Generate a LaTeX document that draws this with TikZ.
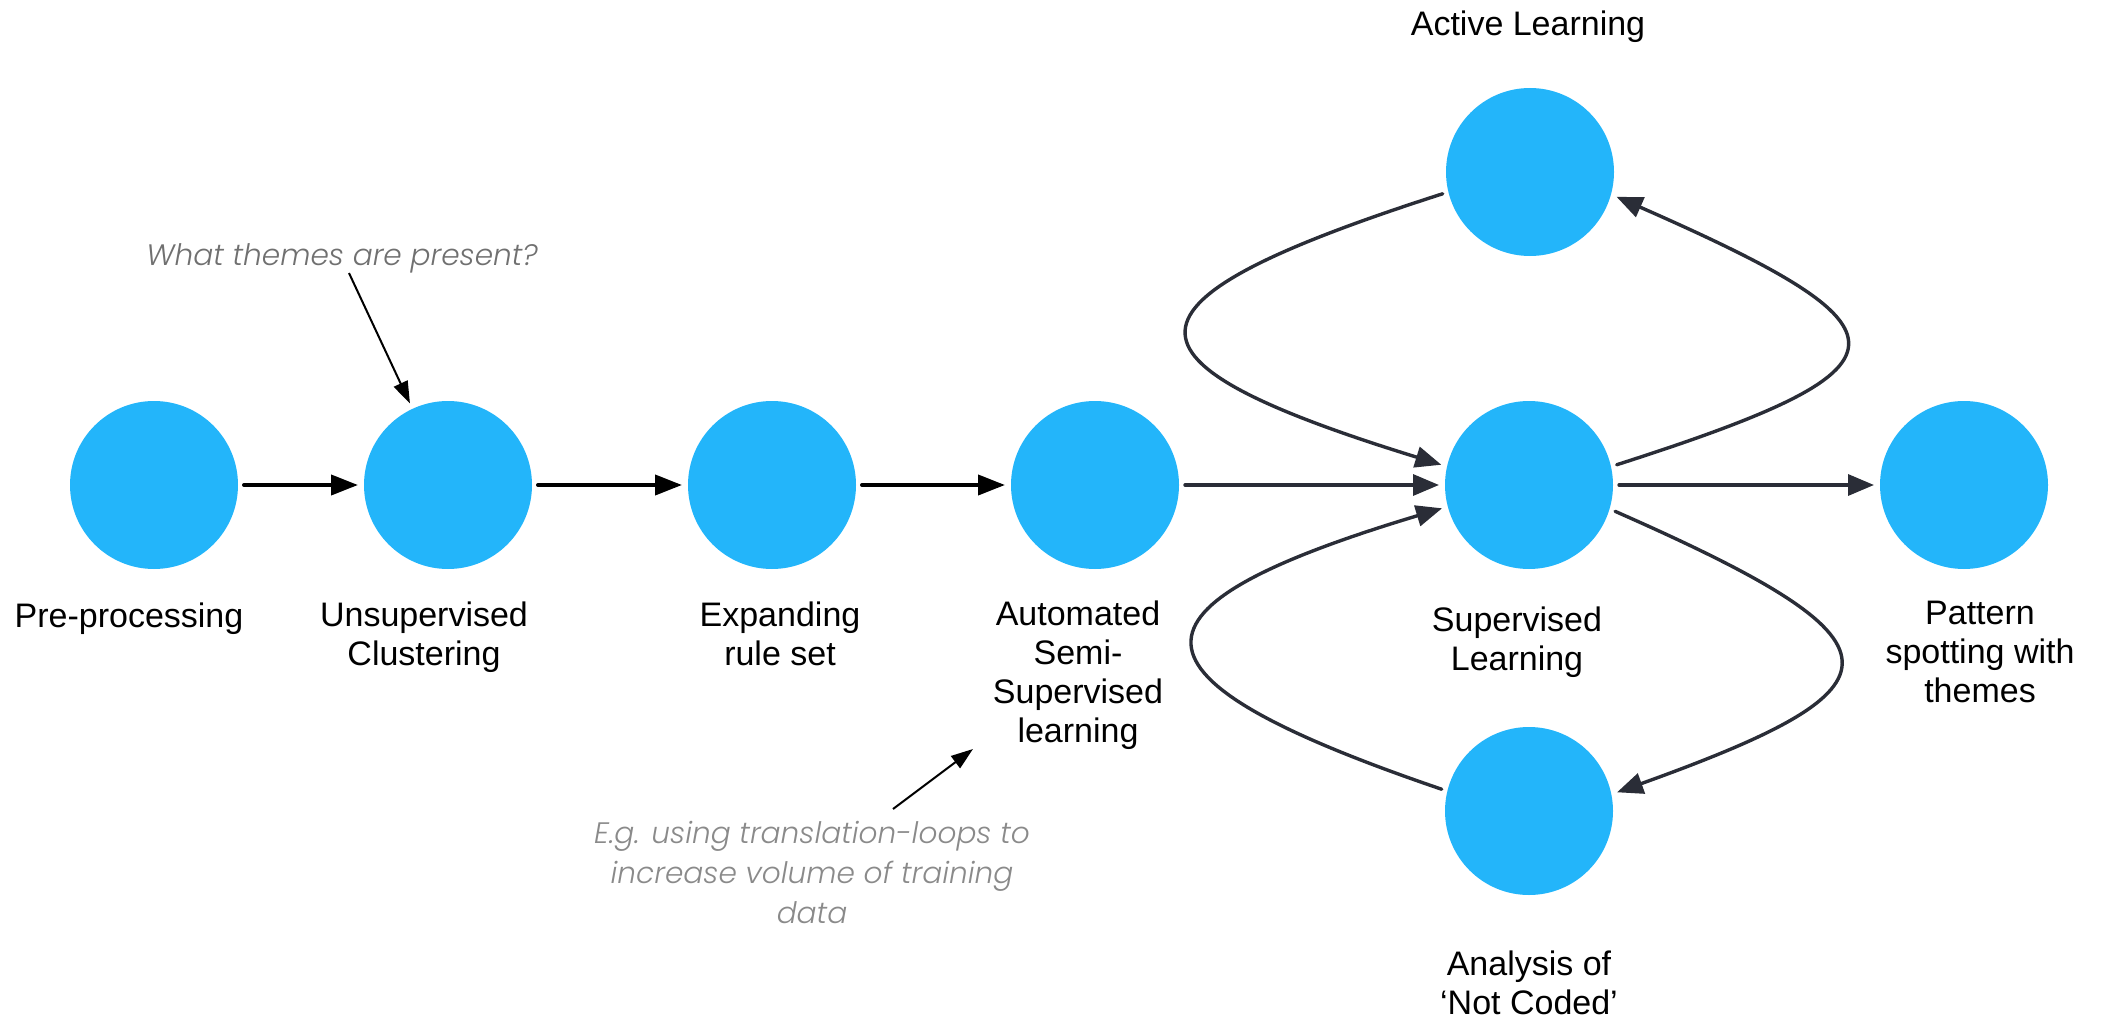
\documentclass[tikz,border=0pt]{standalone}
\usepackage{fontspec}
\setmainfont{Liberation Sans}
\newfontfamily\annfont{Poppins}[UprightFont={* Light Italic}]
\usetikzlibrary{arrows.meta}
\definecolor{cblue}{HTML}{23B5FA}
\definecolor{cdark}{HTML}{2A2D37}
\definecolor{cgrayA}{HTML}{707070}
\definecolor{cgrayB}{HTML}{8A8A8A}
\begin{document}
\begin{tikzpicture}[x=0.5pt,y=-0.5pt,
  stage/.style={circle, fill=cblue, minimum size=84pt, inner sep=0pt, outer sep=3pt},
  lab/.style={font=\fontsize{17}{19.5}\selectfont, align=center, anchor=base, inner sep=0pt},
  ann/.style={font=\annfont\fontsize{14.8}{20}\selectfont, text=cgrayA, align=center, anchor=base, inner sep=0pt},
  flowk/.style={-{Triangle[length=13.5pt,width=10pt]}, line width=2pt, line cap=round, black},
  flowd/.style={-{Triangle[length=13pt,width=10.5pt]}, line width=1.7pt, line cap=round, cdark},
  note/.style={-{Triangle[length=11pt,width=7.5pt]}, line width=1pt, black}]
\useasboundingbox (0,0) rectangle (2105,1022);

% stages
\node[stage] (pre)  at (154,485) {};
\node[stage] (uns)  at (448,485) {};
\node[stage] (exp)  at (772,485) {};
\node[stage] (semi) at (1095,485) {};
\node[stage] (sup)  at (1529,485) {};
\node[stage] (pat)  at (1964,485) {};
\node[stage] (act)  at (1530,172) {};
\node[stage] (ana)  at (1529,811) {};

% labels (anchor = baseline of the last line)
\node[lab] (lpre)  at (129,627)  {Pre-processing};
\node[lab] (luns)  at (424,665)  {Unsupervised\\Clustering};
\node[lab] (lexp)  at (780,665)  {Expanding\\rule set};
\node[lab] (lsemi) at (1078,742) {Automated\\Semi-\\Supervised\\learning};
\node[lab] (lsup)  at (1517,670) {Supervised\\Learning};
\node[lab] (lpat)  at (1980,702) {Pattern\\spotting with\\themes};
\node[lab] (lact)  at (1528,36)  {Active Learning};
\node[lab] (lana)  at (1529,1014) {Analysis of\\‘Not Coded’};

% annotations
\node[ann] (q1) at (342,265) {What themes are present?};
\node[ann, text=cgrayB] (q2) at (812,923) {E.g. using translation-loops to\\increase volume of training\\data};
\coordinate (q2from) at (893,809);
\coordinate (q2to) at (973,749);

% straight flow
\draw[flowk] (pre) -- (uns);
\draw[flowk] (uns) -- (exp);
\draw[flowk] (exp) -- (semi);
\draw[flowd] (semi) -- (sup);
\draw[flowd] (sup) -- (pat);

% loops
\draw[flowd] (act.194) .. controls +(-340,109) and +(-337,-104) .. (sup.167);
\draw[flowd] (sup.13) .. controls +(306,-98) and +(305,134) .. (act.-16);
\draw[flowd] (sup.-17) .. controls +(300,132) and +(295,-106) .. (ana.12);
\draw[flowd] (ana.166) .. controls +(-332,-113) and +(-329,99) .. (sup.195);

% annotation pointers
\draw[note] ([xshift=3.5pt]q1.south) -- (uns.115);
\draw[note] (q2from) -- (q2to);
\end{tikzpicture}
\end{document}
